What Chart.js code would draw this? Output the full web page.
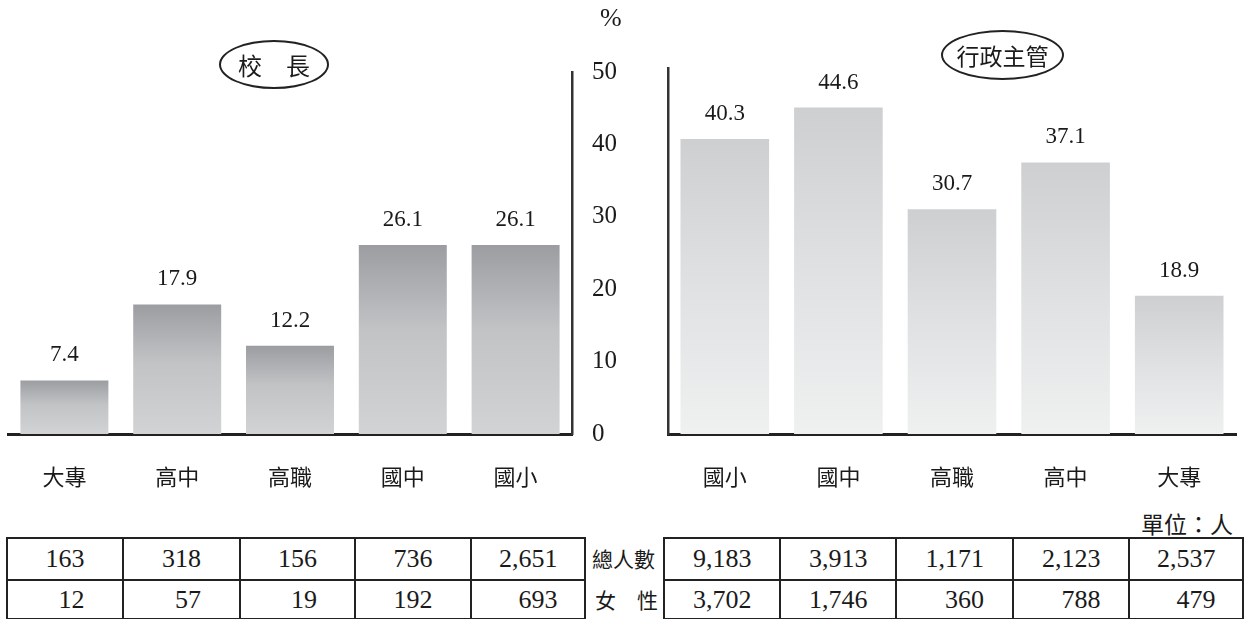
<!DOCTYPE html>
<html>
<head>
<meta charset="utf-8">
<script src="https://cdn.jsdelivr.net/npm/chart.js@4.4.1/dist/chart.umd.min.js"></script>
<style>
  html, body { margin: 0; padding: 0; background: #fff; }
  #wrap { position: relative; width: 1245px; height: 619px; overflow: hidden; font-family: "Liberation Serif", serif; color: #1a1a1a; }
  .abs { position: absolute; }
  canvas { display: block; }
  .oval { position: absolute; border: 2px solid #222; border-radius: 50%; box-sizing: border-box;
          display: flex; align-items: center; justify-content: center;
          font-family: "Noto Sans CJK TC", sans-serif; color: #1a1a1a; white-space: pre; }
  table.data { position: absolute; border-collapse: collapse; table-layout: fixed; }
  table.data td { border: 2.5px solid #222; padding: 0; text-align: center; vertical-align: middle;
                  font-family: "Liberation Serif", serif; font-size: 26px; color: #1a1a1a; line-height: 1; }
  table.data td span { display: inline-block; text-align: right; }
  .rowlab { position: absolute; font-family: "Noto Sans CJK TC", sans-serif; font-size: 21px; color: #1a1a1a; white-space: pre; }
</style>
</head>
<body>
<div id="wrap">
  <div class="abs" style="left:0;top:0;"><canvas id="c1" width="640" height="500"></canvas></div>
  <div class="abs" style="left:640px;top:0;"><canvas id="c2" width="605" height="500"></canvas></div>

  <div class="oval" style="left:219px;top:40px;width:110px;height:49px;font-size:24px;">校　長</div>
  <div class="oval" style="left:941px;top:30px;width:123px;height:50px;font-size:23px;">行政主管</div>

  <div class="abs" style="left:600px;top:3px;font-size:26px;">%</div>
  <div class="abs" style="left:1141px;top:506px;font-size:23px;font-family:'Noto Sans CJK TC',sans-serif;white-space:pre;">單位：人</div>

  <table class="data" id="t1" style="left:6px;top:537px;width:578px;height:81px;"></table>
  <table class="data" id="t2" style="left:663px;top:537px;width:579px;height:81px;"></table>

  <div class="rowlab" style="left:592px;top:543px;">總人數</div>
  <div class="rowlab" style="left:595px;top:584px;">女　性</div>
</div>

<script>
// ---- data ----
const principalCategories = ['大專', '高中', '高職', '國中', '國小'];
const principalPercent    = [7.4, 17.9, 12.2, 26.1, 26.1];
const principalTotal      = [163, 318, 156, 736, 2651];
const principalFemale     = [12, 57, 19, 192, 693];

const adminCategories = ['國小', '國中', '高職', '高中', '大專'];
const adminPercent    = [40.3, 44.6, 30.7, 37.1, 18.9];
const adminTotal      = [9183, 3913, 1171, 2123, 2537];
const adminFemale     = [3702, 1746, 360, 788, 479];

const yMin = 0, yMax = 50, yStep = 10;

// ---- helpers ----
const CJK = '"Noto Sans CJK TC", "Noto Sans CJK SC", sans-serif';
const SERIF = '"Liberation Serif", serif';

function gradientFill(stops) {
  return (c) => {
    const chart = c.chart;
    if (!chart.chartArea || c.raw == null || !chart.scales.y) return stops[stops.length - 1][1];
    const ys = chart.scales.y;
    const yTop = ys.getPixelForValue(c.raw);
    const yBot = ys.getPixelForValue(0);
    const g = chart.ctx.createLinearGradient(0, yTop, 0, yBot);
    stops.forEach(s => g.addColorStop(s[0], s[1]));
    return g;
  };
}

const valueLabels = {
  id: 'valueLabels',
  afterDatasetsDraw(chart) {
    const ctx = chart.ctx;
    const meta = chart.getDatasetMeta(0);
    const data = chart.data.datasets[0].data;
    ctx.save();
    ctx.font = '23px ' + SERIF;
    ctx.fillStyle = '#1a1a1a';
    ctx.textAlign = 'center';
    ctx.textBaseline = 'middle';
    meta.data.forEach((bar, i) => {
      ctx.fillText(data[i].toFixed(1), bar.x, bar.y - 25);
    });
    ctx.restore();
  }
};

function makeChart(id, labels, values, stops, opts) {
  return new Chart(document.getElementById(id), {
    type: 'bar',
    data: {
      labels: labels,
      datasets: [{
        data: values,
        backgroundColor: gradientFill(stops),
        borderWidth: 0,
        barPercentage: 0.78,
        categoryPercentage: 1.0
      }]
    },
    options: {
      responsive: false,
      animation: false,
      events: [],
      layout: { padding: opts.padding },
      plugins: { legend: { display: false }, tooltip: { enabled: false }, title: { display: false } },
      scales: {
        x: {
          grid: { display: false, drawTicks: false },
          border: { display: true, color: '#222', width: 3 },
          ticks: { font: { family: CJK, size: 22 }, color: '#1a1a1a', padding: 29, maxRotation: 0, autoSkip: false },
          afterFit(s) { s.height = 66; }
        },
        y: {
          position: opts.yPos,
          min: yMin, max: yMax,
          grid: { display: false, drawTicks: false },
          border: { display: true, color: '#333', width: 2.5 },
          ticks: { display: opts.showTicks, stepSize: yStep, padding: 20, font: { family: SERIF, size: 25 }, color: '#1a1a1a', align: 'center', crossAlign: 'near' },
          afterFit(s) { s.width = opts.yWidth; }
        }
      }
    },
    plugins: [valueLabels]
  });
}

const c1 = makeChart('c1', principalCategories, principalPercent,
  [[0, '#9c9da1'], [0.45, '#c2c3c5'], [1, '#d2d3d5']],
  { padding: { left: 8, top: 72, right: 0, bottom: 0 }, yPos: 'right', showTicks: true, yWidth: 68 });

const c2 = makeChart('c2', adminCategories, adminPercent,
  [[0, '#cecfd1'], [0.5, '#e0e1e2'], [1, '#eff0f0']],
  { padding: { left: 0, top: 68, right: 9, bottom: 0 }, yPos: 'left', showTicks: false, yWidth: 28 });

c1.update(); c2.update();

// ---- tables ----
function fmt(n) { return n.toLocaleString('en-US'); }
function buildTable(id, rowA, rowB, widths) {
  const t = document.getElementById(id);
  const cg = document.createElement('colgroup');
  widths.forEach(w => { const col = document.createElement('col'); col.style.width = w + 'px'; cg.appendChild(col); });
  t.appendChild(cg);
  [[rowA, 42], [rowB, 39]].forEach(([row, h]) => {
    const tr = document.createElement('tr');
    tr.style.height = h + 'px';
    row.forEach(v => {
      const td = document.createElement('td');
      const sp = document.createElement('span');
      sp.textContent = fmt(v);
      td.appendChild(sp);
      tr.appendChild(td);
    });
    t.appendChild(tr);
  });
  // right-align the two numbers of each column inside a centred block
  for (let c = 0; c < widths.length; c++) {
    const spans = [t.rows[0].cells[c].firstChild, t.rows[1].cells[c].firstChild];
    const w = Math.max(spans[0].offsetWidth, spans[1].offsetWidth);
    spans.forEach(s => { s.style.width = w + 'px'; });
  }
}
buildTable('t1', principalTotal, principalFemale, [116, 117, 115, 116, 114]);
buildTable('t2', adminTotal, adminFemale, [116, 116, 117, 116, 114]);
</script>
</body>
</html>
